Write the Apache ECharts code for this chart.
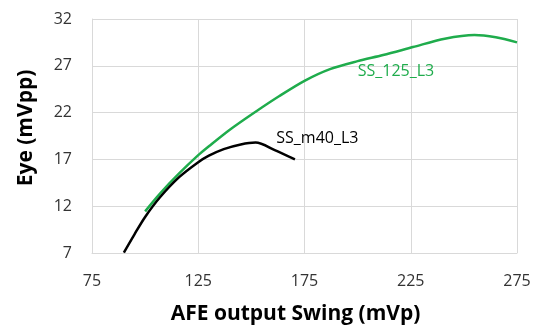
<!DOCTYPE html>
<html>
<head>
<meta charset="utf-8">
<script src="https://cdn.jsdelivr.net/npm/echarts@6/dist/echarts.min.js"></script>
<style>
  html, body { margin: 0; padding: 0; background: #fff; }
  #chart { width: 541px; height: 325px; }
</style>
</head>
<body>
<div id="chart"></div>
<script>
// x ticks: 75..275 step 50, y ticks: 7..32 step 5
const xTicks = [75, 125, 175, 225, 275];
const yTicks = [7, 12, 17, 22, 27, 32];

// SS_125_L3 (green)
const ss125X = [100, 107, 116, 125, 130, 140, 152, 163, 175, 187, 200, 212, 226, 241, 255, 265, 275];
const ss125Y = [11.45, 13.35, 15.5, 17.45, 18.4, 20.2, 22.1, 23.75, 25.4, 26.65, 27.5, 28.15, 29.0, 29.9, 30.3, 30.05, 29.5];

// SS_m40_L3 (black)
const m40X = [90, 95, 100, 107, 116, 125, 130, 137, 145, 152, 161, 170.5];
const m40Y = [7.05, 9.0, 10.85, 12.95, 15.1, 16.7, 17.4, 18.1, 18.6, 18.8, 18.0, 17.0];

// series label anchors, in data units
const labelM40 = [161.5, 19.26];
const labelSS125 = [199.8, 26.36];

const zip = (xs, ys) => xs.map((x, i) => [x, ys[i]]);

const chart = echarts.init(document.getElementById('chart'), null, { renderer: 'canvas' });

const font = '"Open Sans", "Noto Sans", sans-serif';
const grid = '#d9d9d9';

function seriesLabel(text, coord, color) {
  return {
    silent: true,
    symbol: 'circle',
    symbolSize: 1,
    itemStyle: { color: 'rgba(0,0,0,0)' },
    label: {
      show: true, position: 'right', distance: 0, formatter: text,
      fontFamily: font, fontSize: 16, color: color
    },
    data: [{ coord: coord }]
  };
}

chart.setOption({
  animation: false,
  backgroundColor: '#fff',
  grid: { left: 92, right: 24, top: 19, bottom: 72, containLabel: false, outerBoundsMode: 'none' },
  xAxis: {
    type: 'value',
    min: xTicks[0],
    max: xTicks[xTicks.length - 1],
    interval: xTicks[1] - xTicks[0],
    name: 'AFE output Swing (mVp)',
    nameLocation: 'middle',
    nameGap: 51,
    nameTextStyle: { fontFamily: font, fontSize: 21, fontWeight: 'bold', color: '#000', padding: [0, 18, 0, 0] },
    axisLine: { show: true, lineStyle: { color: grid, width: 1 } },
    axisTick: { show: false },
    splitLine: { show: true, lineStyle: { color: grid, width: 1 } },
    axisLabel: { fontFamily: font, fontSize: 16, color: '#333', margin: 20 }
  },
  yAxis: {
    type: 'value',
    min: yTicks[0],
    max: yTicks[yTicks.length - 1],
    interval: yTicks[1] - yTicks[0],
    name: 'Eye (mVpp)',
    nameLocation: 'middle',
    nameGap: 55,
    nameTextStyle: { fontFamily: font, fontSize: 21, fontWeight: 'bold', color: '#000', padding: [0, 0, 0, 16] },
    axisLine: { show: true, lineStyle: { color: grid, width: 1 } },
    axisTick: { show: false },
    splitLine: { show: true, lineStyle: { color: grid, width: 1 } },
    axisLabel: { fontFamily: font, fontSize: 16, color: '#333', margin: 20 }
  },
  series: [
    {
      name: 'SS_125_L3',
      type: 'line',
      data: zip(ss125X, ss125Y),
      smooth: 0.3,
      symbol: 'none',
      lineStyle: { color: '#1fac4c', width: 2.5 },
      markPoint: seriesLabel('SS_125_L3', labelSS125, '#1fac4c')
    },
    {
      name: 'SS_m40_L3',
      type: 'line',
      data: zip(m40X, m40Y),
      smooth: 0.3,
      symbol: 'none',
      lineStyle: { color: '#000', width: 2.5 },
      markPoint: seriesLabel('SS_m40_L3', labelM40, '#000')
    }
  ]
});
</script>
</body>
</html>
